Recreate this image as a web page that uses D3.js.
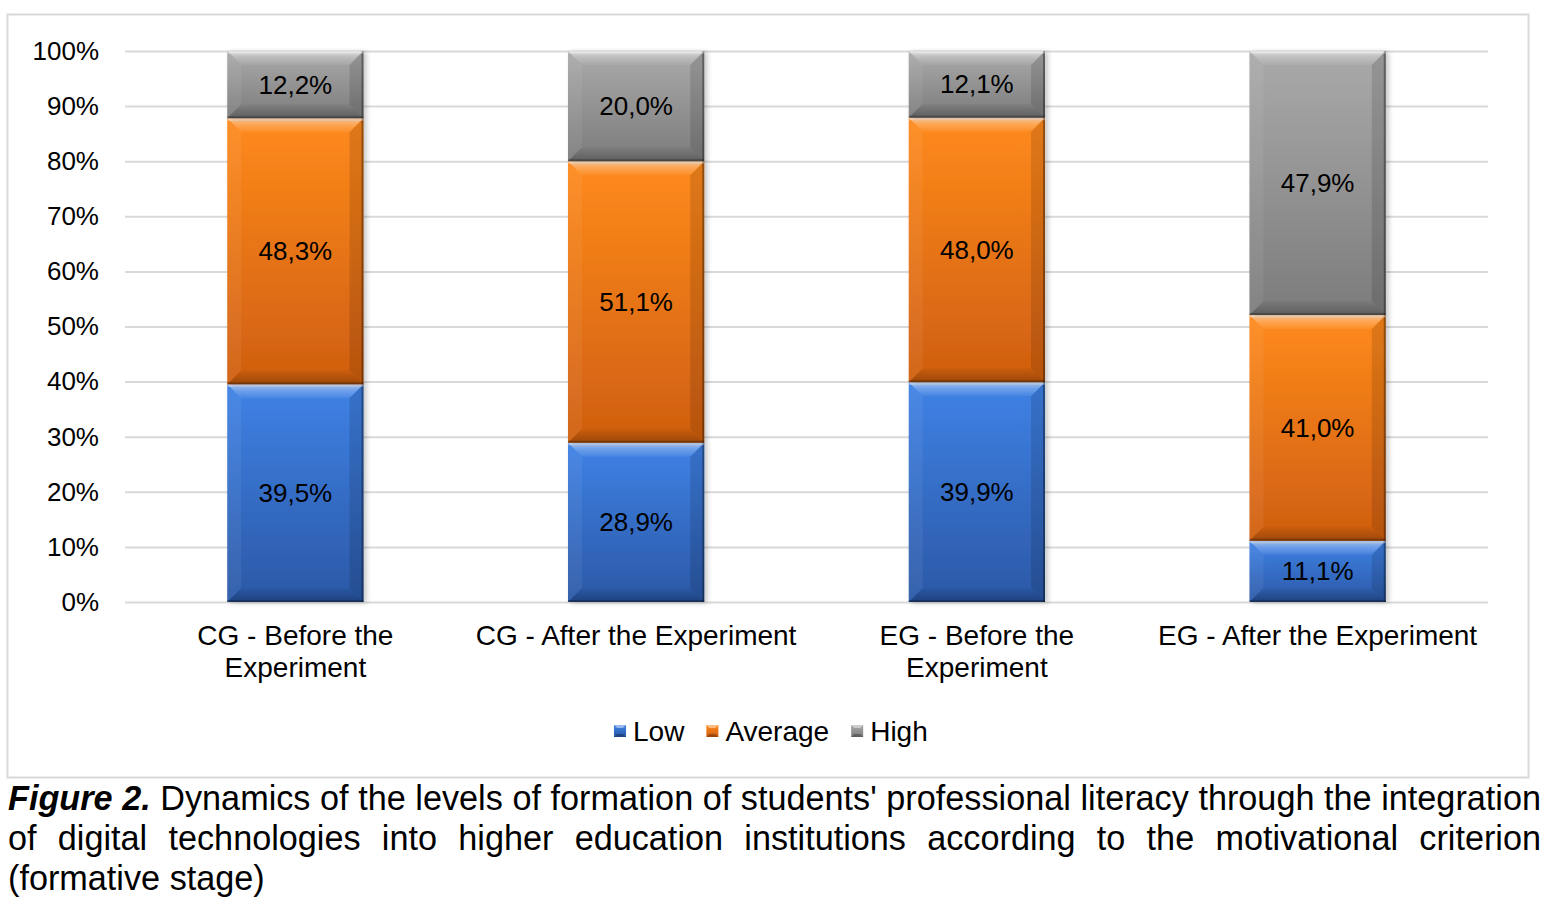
<!DOCTYPE html>
<html>
<head>
<meta charset="utf-8">
<script src="https://cdn.jsdelivr.net/npm/d3@7"></script>
<style>
  body { margin: 0; background: #fff; }
  svg text { font-family: "Liberation Sans", Arial, sans-serif; fill: #000; }
</style>
</head>
<body>
<div id="chart"></div>
<script>
// data
const categories = [
    ["CG - Before the", "Experiment"],
    ["CG - After the Experiment"],
    ["EG - Before the", "Experiment"],
    ["EG - After the Experiment"],
]
const seriesNames = ["Low", "Average", "High"]
const lowValues = [39.5, 28.9, 39.9, 11.1]
const averageValues = [48.3, 51.1, 48.0, 41.0]
const highValues = [12.2, 20.0, 12.1, 47.9]
const yTicks = [0, 10, 20, 30, 40, 50, 60, 70, 80, 90, 100]
const captionBold = ["Figure", "2."]
const captionLines = [
    "Dynamics of the levels of formation of students' professional literacy through the integration",
    "of digital technologies into higher education institutions according to the motivational criterion",
    "(formative stage)",
]

const seriesColors = {
    Low: ["#3f82e6", "#2b58a6"],
    Average: ["#ff8a1c", "#cf5e10"],
    High: ["#aaaaaa", "#7c7c7c"],
}

function drawChart() {
    const dimensions = {
        width: 1548,
        height: 906,
        plotLeft: 125,
        plotRight: 1488,
        plotTop: 51,
        plotBottom: 602,
    }

    const svg = d3.select("#chart")
        .append("svg")
            .attr("width", dimensions.width)
            .attr("height", dimensions.height)

    const defs = svg.append("defs")

    // segment gradients
    seriesNames.forEach(name => {
        const g = defs.append("linearGradient")
            .attr("id", `grad-${name}`)
            .attr("x1", 0).attr("x2", 0).attr("y1", 0).attr("y2", 1)
        g.append("stop").attr("offset", "0%").attr("stop-color", seriesColors[name][0])
        g.append("stop").attr("offset", "100%").attr("stop-color", seriesColors[name][1])
    })
    const topFace = defs.append("linearGradient")
        .attr("id", "bevel-top")
        .attr("x1", 0).attr("x2", 0).attr("y1", 0).attr("y2", 1)
    topFace.append("stop").attr("offset", "0%").attr("stop-color", "#fff").attr("stop-opacity", 0.6)
    topFace.append("stop").attr("offset", "45%").attr("stop-color", "#fff").attr("stop-opacity", 0.25)
    topFace.append("stop").attr("offset", "100%").attr("stop-color", "#fff").attr("stop-opacity", 0.05)
    const bottomFace = defs.append("linearGradient")
        .attr("id", "bevel-bottom")
        .attr("x1", 0).attr("x2", 0).attr("y1", 0).attr("y2", 1)
    bottomFace.append("stop").attr("offset", "0%").attr("stop-color", "#000").attr("stop-opacity", 0.03)
    bottomFace.append("stop").attr("offset", "100%").attr("stop-color", "#000").attr("stop-opacity", 0.25)

    const shadow = defs.append("filter")
        .attr("id", "shadow")
        .attr("x", "-10%").attr("y", "-10%").attr("width", "130%").attr("height", "120%")
    shadow.append("feDropShadow")
        .attr("dx", 3).attr("dy", 1)
        .attr("stdDeviation", 2.5)
        .attr("flood-color", "#000")
        .attr("flood-opacity", 0.22)

    // frame
    svg.append("rect")
        .attr("x", 7.5).attr("y", 14.5)
        .attr("width", 1521).attr("height", 763)
        .attr("fill", "#fff")
        .attr("stroke", "#d9d9d9")
        .attr("stroke-width", 2)

    // scales
    const xScale = d3.scaleBand()
        .domain(d3.range(categories.length))
        .range([dimensions.plotLeft, dimensions.plotRight])
        .paddingInner(0.6)
        .paddingOuter(0.3)

    const yScale = d3.scaleLinear()
        .domain([0, 100])
        .range([dimensions.plotBottom, dimensions.plotTop])

    // gridlines + y labels
    const yAxis = svg.append("g")
        .attr("transform", `translate(${dimensions.plotLeft},0)`)
        .call(d3.axisLeft(yScale)
            .tickValues(yTicks)
            .tickSize(-(dimensions.plotRight - dimensions.plotLeft))
            .tickPadding(26)
            .tickFormat(d => d + "%"))
    yAxis.select(".domain").remove()
    yAxis.selectAll(".tick line")
        .attr("stroke", "#d9d9d9")
        .attr("stroke-width", 2)
    yAxis.selectAll(".tick text")
        .attr("font-size", 26)
        .attr("fill", "#000")
        .attr("font-family", "Liberation Sans, Arial, sans-serif")

    // stack
    const rows = categories.map((c, i) => ({
        index: i,
        Low: lowValues[i],
        Average: averageValues[i],
        High: highValues[i],
    }))
    const stacked = d3.stack().keys(seriesNames)(rows)

    const bevel = 14
    const barsGroup = svg.append("g")

    stacked.forEach(layer => {
        const name = layer.key
        layer.forEach(d => {
            const x = xScale(d.data.index)
            const w = xScale.bandwidth()
            const y = yScale(d[1])
            const h = yScale(d[0]) - yScale(d[1])
            const b = Math.min(bevel, h / 2)
            const seg = barsGroup.append("g")

            seg.append("rect")
                .attr("x", x).attr("y", y)
                .attr("width", w).attr("height", h)
                .attr("fill", `url(#grad-${name})`)
                .attr("filter", "url(#shadow)")

            // bevel faces
            seg.append("path")
                .attr("d", `M${x},${y}H${x + w}L${x + w - b},${y + b}H${x + b}Z`)
                .attr("fill", "url(#bevel-top)")
            seg.append("path")
                .attr("d", `M${x},${y + h}H${x + w}L${x + w - b},${y + h - b}H${x + b}Z`)
                .attr("fill", "url(#bevel-bottom)")
            seg.append("path")
                .attr("d", `M${x},${y}L${x + b},${y + b}V${y + h - b}L${x},${y + h}Z`)
                .attr("fill", "#fff").attr("fill-opacity", 0.06)
            seg.append("path")
                .attr("d", `M${x + w},${y}L${x + w - b},${y + b}V${y + h - b}L${x + w},${y + h}Z`)
                .attr("fill", "#000").attr("fill-opacity", 0.12)
            // thin edges
            seg.append("line")
                .attr("x1", x + w - 1).attr("x2", x + w - 1)
                .attr("y1", y).attr("y2", y + h)
                .attr("stroke", "#000").attr("stroke-opacity", 0.35)
                .attr("stroke-width", 2)
            seg.append("line")
                .attr("x1", x).attr("x2", x + w)
                .attr("y1", y + h - 1).attr("y2", y + h - 1)
                .attr("stroke", "#000").attr("stroke-opacity", 0.25)
                .attr("stroke-width", 2)
            seg.append("line")
                .attr("x1", x).attr("x2", x + w)
                .attr("y1", y + 1.5).attr("y2", y + 1.5)
                .attr("stroke", "#fff").attr("stroke-opacity", 0.35)
                .attr("stroke-width", 2)

            // label
            seg.append("text")
                .attr("x", x + w / 2)
                .attr("y", (y + h / 2) + 9)
                .attr("text-anchor", "middle")
                .attr("font-size", 26)
                .text(d3.format(".1f")(d[1] - d[0]).replace(".", ",") + "%")
        })
    })

    // category labels
    categories.forEach((lines, i) => {
        const t = svg.append("text")
            .attr("x", xScale(i) + xScale.bandwidth() / 2)
            .attr("y", 645)
            .attr("text-anchor", "middle")
            .attr("font-size", 28)
        lines.forEach((line, j) => {
            t.append("tspan")
                .attr("x", xScale(i) + xScale.bandwidth() / 2)
                .attr("dy", j === 0 ? 0 : 32)
                .text(line)
        })
    })

    // legend
    const legend = svg.append("g")
    let cursor = 0
    seriesNames.forEach(name => {
        const item = legend.append("g")
        item.append("rect")
            .attr("x", 0).attr("y", -6)
            .attr("width", 12).attr("height", 12)
            .attr("fill", `url(#grad-${name})`)
        item.append("path")
            .attr("d", "M0,-6H12L9,-3H3Z")
            .attr("fill", "#fff").attr("fill-opacity", 0.45)
        item.append("path")
            .attr("d", "M0,6H12L9,3H3Z")
            .attr("fill", "#000").attr("fill-opacity", 0.25)
        const label = item.append("text")
            .attr("x", 19)
            .attr("y", 9.5)
            .attr("font-size", 28)
            .text(name)
        const wItem = 19 + label.node().getComputedTextLength()
        item.attr("transform", `translate(${cursor},731)`)
        cursor += wItem + 22
    })
    const legendWidth = cursor - 22
    legend.attr("transform", `translate(${614},0)`)

    // caption, justified
    const caption = svg.append("g")
    const left = 8
    const right = 1541
    const measure = caption.append("text")
    const lineWords = captionLines.map((line, li) => {
        const plain = line.split(" ").map(t => ({ text: t, bold: false }))
        return li === 0 ? captionBold.map(t => ({ text: t, bold: true })).concat(plain) : plain
    })
    const measureAt = (fs) => {
        measure.attr("font-size", fs)
        lineWords.forEach(line => line.forEach(wd => {
            measure.text(wd.text)
                .attr("font-weight", wd.bold ? "bold" : null)
                .attr("font-style", wd.bold ? "italic" : null)
            wd.width = measure.node().getComputedTextLength()
        }))
    }
    // pick size so the first line fits naturally (space = 0.278em)
    measureAt(30)
    const natural = d3.sum(lineWords[0], d => d.width) + 0.278 * 30 * (lineWords[0].length - 1)
    const fontSize = 30 * (right - left) / natural
    measureAt(fontSize)
    measure.remove()
    const spaceWidth = 0.278 * fontSize

    lineWords.forEach((line, li) => {
        const baseline = 810 + li * 40
        const total = d3.sum(line, d => d.width)
        const last = li === lineWords.length - 1
        const gap = last ? spaceWidth : (right - left - total) / (line.length - 1)
        let x = left
        line.forEach(wd => {
            caption.append("text")
                .attr("x", x)
                .attr("y", baseline)
                .attr("font-size", fontSize)
                .attr("font-weight", wd.bold ? "bold" : null)
                .attr("font-style", wd.bold ? "italic" : null)
                .text(wd.text)
            x += wd.width + gap
        })
    })
}

drawChart()
</script>
</body>
</html>
